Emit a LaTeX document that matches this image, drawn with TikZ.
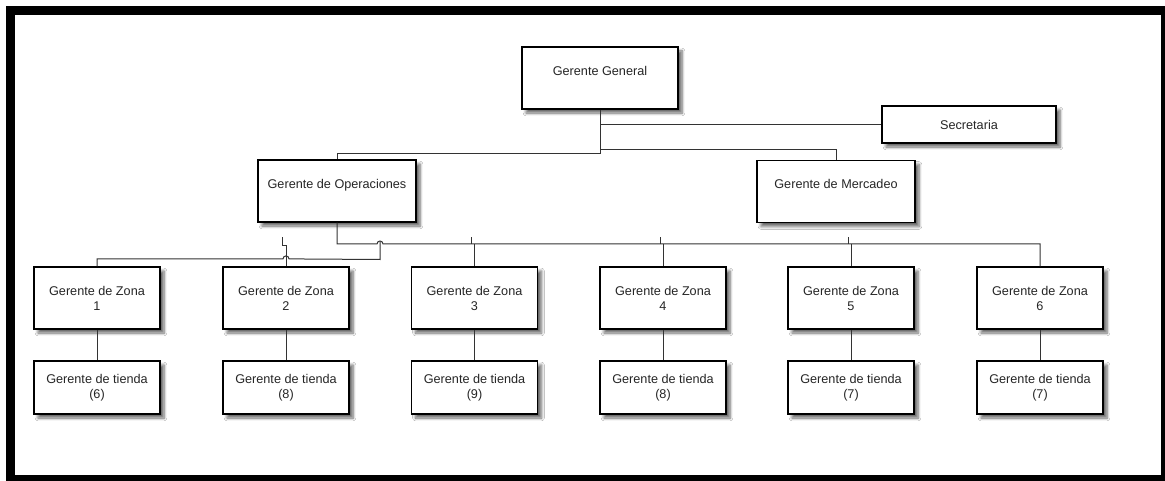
\documentclass[tikz,border=0pt]{standalone}
\usepackage{fontspec}
\setmainfont{Liberation Sans}
\usepackage{tikz}
\usetikzlibrary{%
  calc,%
  shadows.blur%
}
\tikzset{>=latex}
\tikzset{
  box/.style={draw=black,line width=0.9pt,fill=white,align=center,inner sep=0pt,
    font=\fontsize{9.5}{11.25}\selectfont,text=black!85,
    blur shadow={shadow xshift=3pt,shadow yshift=-3pt,shadow blur steps=6,shadow opacity=60}},
  big/.style={box,minimum width=118.5pt,minimum height=46.5pt},
  zona/.style={box,minimum width=94.5pt,minimum height=46.5pt},
  tienda/.style={box,minimum width=94.5pt,minimum height=39.75pt},
  link/.style={line width=0.75pt,black!80}
}

\begin{document}
\begin{tikzpicture}[x=0.75pt,y=-0.75pt]
  \useasboundingbox (0,0) rectangle (1165,481);
  \fill[white] (0,0) rectangle (1165,481);
  \draw[line width=6.75pt] (10.5,11) rectangle (1165.5,479.5);

  \node[big,minimum width=117pt] (gg) at (600,78) {Gerente General\\~};
  \node[box,minimum width=130.5pt,minimum height=27.75pt] (sec) at (969,124.5) {Secretaria};
  \node[big] (ops) at (337,191) {Gerente de Operaciones\\~};
  \node[big] (mer) at (836,191.5) {Gerente de Mercadeo\\~};
  \foreach \i/\x/\n in {1/97/6,2/286/8,3/474.5/9,4/663/8,5/851/7,6/1040/7}{
    \node[zona] (z\i) at (\x,298) {Gerente de Zona\\\i};
    \node[tienda] (t\i) at (\x,387.5) {Gerente de tienda\\(\n)};
    \draw[link] (z\i) -- (t\i);
  }

  \draw[link] (gg.south) -- ++(0,44) -| (ops.north);
  \draw[link] ($(gg.south)+(0,40)$) -| (mer.north);
  \draw[link] (gg.south |- sec.west) -- (sec.west);

  % bus from operaciones
  \coordinate (bus) at (337,244);
  \draw[link] (ops.south) -- (bus) -- ++(40,0)
    arc[start angle=180,end angle=0,radius=2.25pt] -| (z6.north);
  \foreach \i in {3,4,5}{
    \draw[link] (z\i.north |- bus) -- (z\i.north);
    \draw[link] ($(z\i.north |- bus)+(-3,0)$) -- ++(0,-7);
  }
  \draw[link] (z1.north) -- ++(0,-7.5) -- ($(z2.north)+(-3,-7.5)$)
    arc[start angle=180,end angle=0,radius=2.25pt] -- (380,259.5) -- (380,241.5);
  \draw[link] (z2.north) -- ++(0,-21) -- ++(-4,0) -- ++(0,-8);
\end{tikzpicture}
\end{document}
